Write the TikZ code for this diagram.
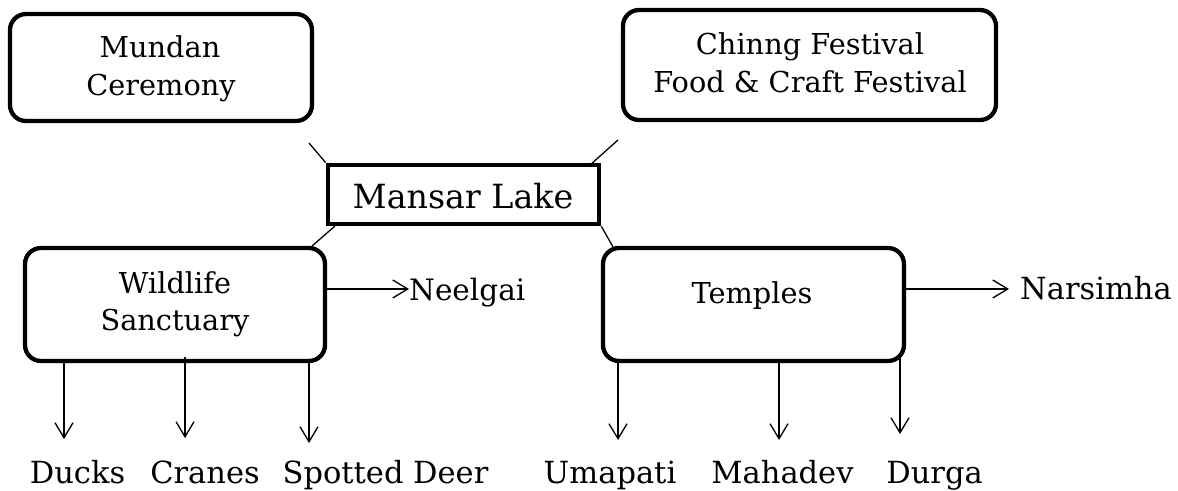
\documentclass[tikz,border=0pt]{standalone}
\usepackage{fontspec}
\setmainfont{DejaVu Serif}
\usetikzlibrary{arrows.meta}
\tikzset{
  rbox/.style={draw, line width=4.3pt, rounded corners=16pt, inner sep=0pt},
  sbox/.style={draw, line width=4.8pt, inner sep=0pt},
  boxtxt/.style={inner sep=0pt, anchor=base, font=\fontsize{28.8}{34}\selectfont},
  bigtxt/.style={inner sep=0pt, anchor=base, font=\fontsize{33.3}{38}\selectfont},
  lbl/.style={inner sep=0pt, anchor=base, font=\fontsize{30.5}{35}\selectfont},
  link/.style={line width=1.3pt},
  arr/.style={line width=1.3pt, -{Straight Barb[length=15pt,width=18pt,line width=1.3pt]}}
}
\begin{document}
\begin{tikzpicture}[x=1pt,y=-1pt]
\useasboundingbox (0,0) rectangle (1178,490);
% boxes
\node[rbox, minimum width=302pt, minimum height=107pt] (mundan) at (161,67.5) {};
\node[rbox, minimum width=373pt, minimum height=110pt] (chinng) at (809.5,65) {};
\node[sbox, minimum width=271pt, minimum height=59pt] (mansar) at (463.5,194.5) {};
\node[rbox, minimum width=300pt, minimum height=113pt] (wild) at (175,304.5) {};
\node[rbox, minimum width=301pt, minimum height=113pt] (temples) at (753.5,304.5) {};
% box texts
\node[boxtxt] (mundanA) at (160,57) {Mundan};
\node[boxtxt] (mundanB) at (161,95) {Ceremony};
\node[boxtxt] (chinngA) at (810,54) {Chinng Festival};
\node[boxtxt] (chinngB) at (810,92) {Food \& Craft Festival};
\node[bigtxt] (mansarT) at (463,208) {Mansar Lake};
\node[boxtxt] (wildA) at (175,293) {Wildlife};
\node[boxtxt] (wildB) at (175,330) {Sanctuary};
\node[boxtxt] (templesT) at (752,303) {Temples};
% side labels
\node[lbl, anchor=base west, font=\fontsize{29.5}{35}\selectfont] (neelgai) at (409,300) {Neelgai};
\node[lbl, anchor=base west] (narsimha) at (1020,299) {Narsimha};
% bottom labels
\node[lbl] (ducks) at (77.5,483) {Ducks};
\node[lbl] (cranes) at (205,483) {Cranes};
\node[lbl] (deer) at (385.5,483) {Spotted Deer};
\node[lbl] (umapati) at (610,483) {Umapati};
\node[lbl] (mahadev) at (782.5,483) {Mahadev};
\node[lbl] (durga) at (934.5,483) {Durga};
% free ends of the links
\coordinate (tl) at (309,143);
\coordinate (tr) at (618,140);
\coordinate (mtr) at (590,165);
\coordinate (mbl) at (335,226);
\coordinate (wtr) at (312,246);
\coordinate (tlft) at (613,247);
\draw[link] (tl) -- (mansar.north west);
\draw[link] (tr) -- (mtr);
\draw[link] (mbl) -- (wtr);
\draw[link] (mansar.south east) -- (tlft);
% side arrows
\draw[arr] (wild.east |- 0,289) -- (neelgai.west |- 0,289);
\coordinate (narsTip) at (1009,289);
\draw[arr] (temples.east |- narsTip) -- (narsTip);
% down arrows
\coordinate (dk) at (64,439);
\coordinate (cr) at (185,438);
\coordinate (sd) at (309,443);
\coordinate (um) at (618,440);
\coordinate (mh) at (779,440);
\coordinate (dg) at (900,434);
\draw[arr] (wild.south -| dk) -- (dk);
\draw[arr] (cr |- 0,357) -- (cr);
\draw[arr] (wild.south -| sd) -- (sd);
\draw[arr] (temples.south -| um) -- (um);
\draw[arr] (temples.south -| mh) -- (mh);
\draw[arr] (dg |- 0,356) -- (dg);
\end{tikzpicture}
\end{document}
